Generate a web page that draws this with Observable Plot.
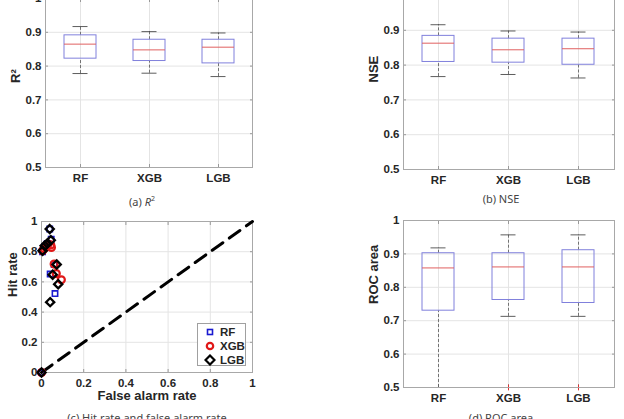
<!DOCTYPE html>
<html><head><meta charset="utf-8">
<script src="https://cdn.jsdelivr.net/npm/d3@7"></script>
<script src="https://cdn.jsdelivr.net/npm/@observablehq/plot@0.6"></script>
<style>
html,body{margin:0;padding:0;background:#fff;}
#root{position:relative;width:624px;height:419px;overflow:hidden;background:#fff;}
.panel{position:absolute;}
.cap{position:absolute;font-family:"Noto Sans",sans-serif;font-size:11px;line-height:11px;color:#444;white-space:nowrap;transform:translateX(-50%);}
#legend{position:absolute;left:197px;top:323px;width:49px;height:43px;border:1px solid #a0a0a0;background:#fff;box-sizing:border-box;font-family:"Liberation Sans",Arial,sans-serif;font-weight:bold;font-size:11.5px;color:#262626;}
.lrow{position:absolute;left:0;height:14px;line-height:14px;}
.lrow svg{position:absolute;left:6px;top:1px;}
.lrow span{position:absolute;left:22px;top:0;}
</style>
</head><body>
<div id="root">
  <div class="panel" id="pa" style="left:0;top:-12px"></div>
  <div class="panel" id="pb" style="left:350px;top:-15px"></div>
  <div class="panel" id="pc" style="left:0;top:210px"></div>
  <div class="panel" id="pd" style="left:350px;top:210px"></div>
  <div class="cap" style="left:142px;top:193px">(a) <i>R</i><sup style="font-size:7px;vertical-align:5px">2</sup></div>
  <div class="cap" style="left:501px;top:193px">(b) NSE</div>
  <div class="cap" style="left:147px;top:412px">(c) Hit rate and false alarm rate</div>
  <div class="cap" style="left:501px;top:412px">(d) ROC area</div>
  <div id="legend"></div>
</div>
<script>
// ---------- data ----------
const models = ["RF", "XGB", "LGB"];
const boxTicks = [0.5, 0.6, 0.7, 0.8, 0.9, 1];
const rateTicks = [0, 0.2, 0.4, 0.6, 0.8, 1];

// (a) R2 box statistics
const r2Lower  = [0.778, 0.779, 0.769];
const r2Q1     = [0.822, 0.815, 0.808];
const r2Median = [0.865, 0.848, 0.856];
const r2Q3     = [0.891, 0.878, 0.878];
const r2Upper  = [0.917, 0.902, 0.898];

// (b) NSE box statistics
const nseLower  = [0.767, 0.773, 0.763];
const nseQ1     = [0.809, 0.807, 0.801];
const nseMedian = [0.863, 0.844, 0.847];
const nseQ3     = [0.884, 0.876, 0.876];
const nseUpper  = [0.916, 0.898, 0.895];

// (d) ROC area box statistics
const rocLower  = [0.500, 0.713, 0.713];
const rocQ1     = [0.730, 0.762, 0.753];
const rocMedian = [0.858, 0.861, 0.861];
const rocQ3     = [0.902, 0.902, 0.911];
const rocUpper  = [0.918, 0.957, 0.957];
const rocOutlierModels = ["XGB", "LGB"];
const rocOutlierValues = [0.5, 0.5];

// (c) hit rate vs false alarm rate
const rfFalseAlarm  = [0, 0.005, 0.015, 0.030, 0.046, 0.041, 0.064, 0.060, 0.039, 0.025];
const rfHit         = [0, 0.800, 0.835, 0.855, 0.882, 0.652, 0.523, 0.715, 0.950, 0.850];
const xgbFalseAlarm = [0, 0.005, 0.012, 0.030, 0.047, 0.060, 0.070, 0.094, 0.044, 0.020];
const xgbHit        = [0, 0.806, 0.820, 0.850, 0.828, 0.718, 0.655, 0.614, 0.845, 0.830];
const lgbFalseAlarm = [0, 0.005, 0.015, 0.028, 0.044, 0.039, 0.072, 0.053, 0.079, 0.041];
const lgbHit        = [0, 0.806, 0.840, 0.855, 0.876, 0.950, 0.715, 0.648, 0.585, 0.466];
const diagonal = [0, 1];

// ---------- helpers ----------
const fmt = d => d3.format("~g")(d);
const blank = () => "";
const FONT = "'Liberation Sans', Arial, Helvetica, sans-serif";
const baseStyle = {fontFamily: FONT, fontSize: "11.5px", fontWeight: "bold", color: "#262626", background: "transparent", overflow: "visible"};
const GRID = "#e4e4e4";
const TICK = "#999";

function innerTicks(xTicks, yTicks) {
  return [
    Plot.axisX(xTicks, {anchor: "bottom", tickSize: -3, tickFormat: blank, stroke: TICK, label: null}),
    Plot.axisX(xTicks, {anchor: "top", tickSize: -3, tickFormat: blank, stroke: TICK, label: null}),
    Plot.axisY(yTicks, {anchor: "left", tickSize: -3, tickFormat: blank, stroke: TICK, label: null}),
    Plot.axisY(yTicks, {anchor: "right", tickSize: -3, tickFormat: blank, stroke: TICK, label: null})
  ];
}

function boxPanel(el, s, label, dims, outM = [], outV = []) {
  const rows = models.map((m, i) => ({model: m, lower: s.lower[i], q1: s.q1[i], median: s.median[i], q3: s.q3[i], upper: s.upper[i]}));
  const outliers = outM.map((m, i) => ({model: m, value: outV[i]}));
  const p = Plot.plot({
    ...dims,
    style: baseStyle,
    x: {type: "band", domain: models, paddingInner: 0.54, paddingOuter: 0.27, label: null},
    y: {domain: [0.5, 1], label: null},
    marks: [
      Plot.gridX(models, {stroke: GRID, strokeOpacity: 1}),
      Plot.gridY(boxTicks, {stroke: GRID, strokeOpacity: 1}),
      ...innerTicks(models, boxTicks),
      Plot.ruleX(rows, {x: "model", y1: "q3", y2: "upper", stroke: "#555", strokeWidth: 0.8, strokeDasharray: "3,2"}),
      Plot.ruleX(rows, {x: "model", y1: "lower", y2: "q1", stroke: "#555", strokeWidth: 0.8, strokeDasharray: "3,2"}),
      Plot.tickY(rows, {x: "model", y: "upper", stroke: "#333", strokeWidth: 0.8, insetLeft: 8.5, insetRight: 8.5}),
      Plot.tickY(rows, {x: "model", y: "lower", stroke: "#333", strokeWidth: 0.8, insetLeft: 8.5, insetRight: 8.5}),
      Plot.barY(rows, {x: "model", y1: "q1", y2: "q3", fill: "none", stroke: "#8080dc", strokeWidth: 1}),
      Plot.tickY(rows, {x: "model", y: "median", stroke: "#e06060", strokeWidth: 1}),
      Plot.dot(outliers, {x: "model", y: "value", symbol: "plus", stroke: "#e03030", r: 2, strokeWidth: 1}),
      Plot.frame({stroke: "#a8a8a8"}),
      Plot.axisX({tickSize: 0, tickPadding: 6, label: null}),
      Plot.axisY(boxTicks, {tickSize: 0, tickPadding: 4, tickFormat: fmt, label: null}),
      Plot.text([label], {text: d => d, frameAnchor: "left", dx: -30, rotate: -90, fontSize: 13, fontWeight: "bold", fill: "#262626"})
    ]
  });
  document.getElementById(el).appendChild(p);
}

boxPanel("pa", {lower: r2Lower, q1: r2Q1, median: r2Median, q3: r2Q3, upper: r2Upper}, "R²",
  {width: 262, height: 200, marginLeft: 45, marginRight: 10, marginTop: 10, marginBottom: 21});
boxPanel("pb", {lower: nseLower, q1: nseQ1, median: nseMedian, q3: nseQ3, upper: nseUpper}, "NSE",
  {width: 274, height: 205, marginLeft: 53, marginRight: 10, marginTop: 10, marginBottom: 21});
boxPanel("pd", {lower: rocLower, q1: rocQ1, median: rocMedian, q3: rocQ3, upper: rocUpper}, "ROC area",
  {width: 274, height: 209, marginLeft: 53, marginRight: 10, marginTop: 10, marginBottom: 32},
  rocOutlierModels, rocOutlierValues);

// scatter panel
const toRows = (fa, hit) => fa.map((v, i) => ({fa: v, hit: hit[i]}));
const pc = Plot.plot({
  width: 263, height: 202, marginLeft: 41, marginRight: 11, marginTop: 11, marginBottom: 40,
  style: baseStyle,
  x: {domain: [0, 1], label: null},
  y: {domain: [0, 1], label: null},
  marks: [
    Plot.gridX(rateTicks, {stroke: GRID, strokeOpacity: 1}),
    Plot.gridY(rateTicks, {stroke: GRID, strokeOpacity: 1}),
    ...innerTicks(rateTicks, rateTicks),
    Plot.frame({stroke: "#a8a8a8"}),
    Plot.line(diagonal, {x: d => d, y: d => d, stroke: "#000", strokeWidth: 3, strokeDasharray: "13,8"}),
    Plot.dot(toRows(rfFalseAlarm, rfHit), {x: "fa", y: "hit", symbol: "square", r: 3, stroke: "#1a1ad0", strokeWidth: 1.6, fill: "none"}),
    Plot.dot(toRows(xgbFalseAlarm, xgbHit), {x: "fa", y: "hit", symbol: "circle", r: 3.5, stroke: "#e01818", strokeWidth: 2.2, fill: "none"}),
    Plot.dot(toRows(lgbFalseAlarm, lgbHit), {x: "fa", y: "hit", symbol: "diamond2", r: 3.7, stroke: "#000", strokeWidth: 2.3, fill: "none"}),
    Plot.axisX(rateTicks, {tickSize: 0, tickPadding: 6, tickFormat: fmt, label: null}),
    Plot.axisY(rateTicks, {tickSize: 0, tickPadding: 4, tickFormat: fmt, label: null}),
    Plot.text(["Hit rate"], {text: d => d, frameAnchor: "left", dx: -29, rotate: -90, fontSize: 13, fontWeight: "bold", fill: "#262626"}),
    Plot.text(["False alarm rate"], {text: d => d, frameAnchor: "bottom", dy: 27, fontSize: 13, fontWeight: "bold", fill: "#262626"})
  ]
});
document.getElementById("pc").appendChild(pc);

// legend
const swatch = {
  RF: '<svg width="12" height="12"><rect x="3.5" y="3.5" width="5" height="5" fill="none" stroke="#1a1ad0" stroke-width="1.6"/></svg>',
  XGB: '<svg width="12" height="12"><circle cx="6" cy="6" r="3.2" fill="none" stroke="#e01818" stroke-width="2.2"/></svg>',
  LGB: '<svg width="12" height="12"><polygon points="6,1.5 10.5,6 6,10.5 1.5,6" fill="none" stroke="#000" stroke-width="2.2"/></svg>'
};
const leg = document.getElementById("legend");
models.forEach((m, i) => {
  const row = document.createElement("div");
  row.className = "lrow";
  row.style.top = (1 + i * 14) + "px";
  row.innerHTML = swatch[m] + "<span>" + m + "</span>";
  leg.appendChild(row);
});
</script>
</body></html>
